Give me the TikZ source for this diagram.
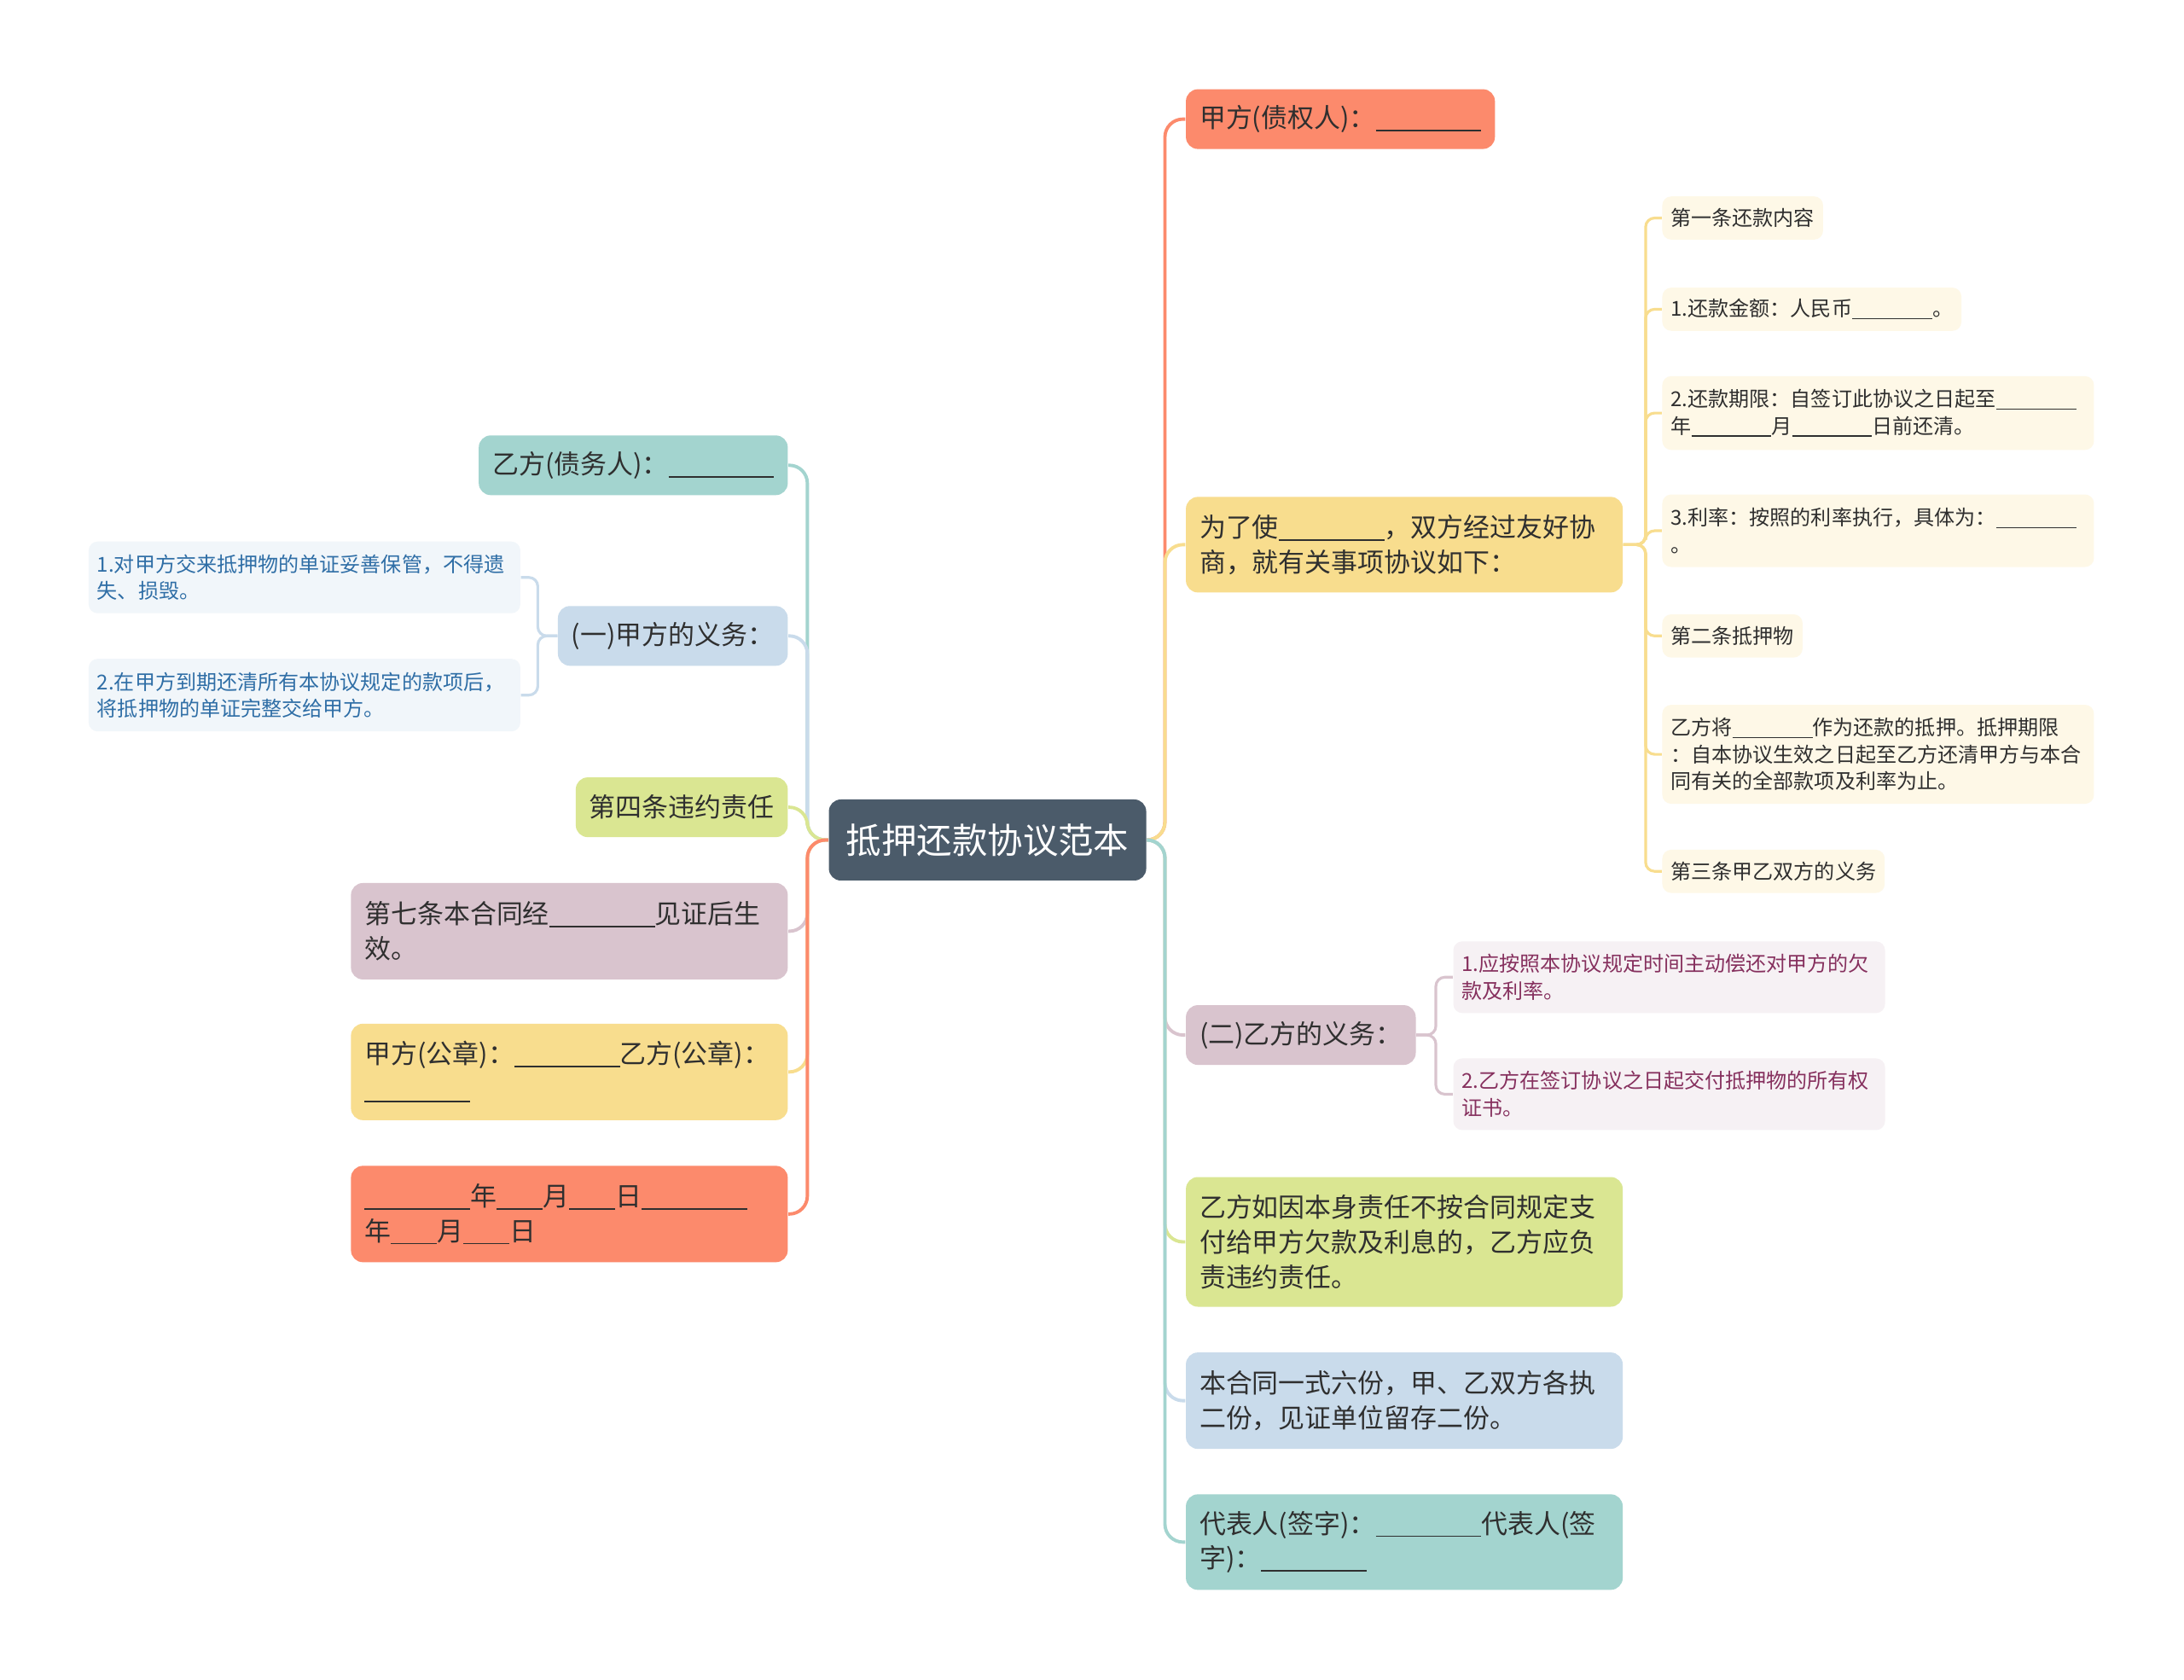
\documentclass[tikz,border=0pt]{standalone}
\usepackage{fontspec}
\setmainfont{Noto Sans CJK SC}
\usepackage{xcolor}
\usepackage{tikz}
\definecolor{MMSlate}{HTML}{4B5B6A}
\definecolor{MMSalmon}{HTML}{FC8A6C}
\definecolor{MMYellow}{HTML}{F8DD8E}
\definecolor{MMTeal}{HTML}{A3D4CF}
\definecolor{MMBlue}{HTML}{C9DBEB}
\definecolor{MMLime}{HTML}{DAE692}
\definecolor{MMMauve}{HTML}{D9C4CE}
\definecolor{MMText}{HTML}{2F2F2F}
\definecolor{MMPaleYellow}{HTML}{FEF8E7}
\definecolor{MMPaleBlue}{HTML}{F1F6FA}
\definecolor{MMPaleMauve}{HTML}{F6F1F4}
\definecolor{MMBlueText}{HTML}{2F6EA6}
\definecolor{MMMauveText}{HTML}{86305E}
\newcommand\fillin[1]{\rule[-0.14em]{#1em}{0.06em}}
\tikzset{
  topic/.style={rounded corners=4pt,inner xsep=0.16cm,inner ysep=0pt,minimum height=0.70cm,
    text=MMText,font=\fontsize{8.8}{11.6}\selectfont,align=left},
  wide/.style={text width=4.8cm},
  sub/.style={rounded corners=3pt,inner xsep=0.10cm,inner ysep=0pt,minimum height=0.506cm,
    text=MMText,font=\fontsize{6.85}{9}\selectfont,align=left},
  subwide/.style={text width=4.86cm},
  link/.style={line width=1.1pt,rounded corners=6pt},
  sublink/.style={line width=0.9pt,rounded corners=3pt}
}

\begin{document}
\begin{tikzpicture}[x=0.016327cm,y=-0.016327cm]
\path[use as bounding box] (0,0) rectangle (1568,1206);
\fill[white] (0,0) rectangle (1568,1206);
\node[fill=MMSlate,rounded corners=4pt,text=white,font=\fontsize{11.8}{14}\selectfont,
  minimum width=3.72cm,minimum height=0.95cm,inner sep=0pt] (root) at (709,603) {抵押还款协议范本};
\node[topic,fill=MMSalmon,anchor=west] (jiafang) at (851,85.5) {甲方(债权人)：\fillin{4}};
\node[topic,wide,fill=MMYellow,anchor=west,minimum height=1.12cm] (weile) at (851,391) {为了使\fillin{4}，双方经过友好协\\商，就有关事项协议如下：};
\node[topic,fill=MMMauve,anchor=west] (yiyiwu) at (851,743) {(二)乙方的义务：};
\node[topic,wide,fill=MMLime,anchor=west,minimum height=1.52cm] (weiyue) at (851,891.5) {乙方如因本身责任不按合同规定支\\付给甲方欠款及利息的，乙方应负\\责违约责任。};
\node[topic,wide,fill=MMBlue,anchor=west,minimum height=1.13cm] (fenshu) at (851,1005.5) {本合同一式六份，甲、乙双方各执\\二份，见证单位留存二份。};
\node[topic,wide,fill=MMTeal,anchor=west,minimum height=1.12cm] (daibiao) at (851,1107) {代表人(签字)：\fillin{4}代表人(签\\字)：\fillin{4}};
\node[topic,fill=MMTeal,anchor=east] (yifang) at (566,334) {乙方(债务人)：\fillin{4}};
\node[topic,fill=MMBlue,anchor=east] (jiayiwu) at (566,456.5) {(一)甲方的义务：};
\node[topic,fill=MMLime,anchor=east] (disi) at (566,579.5) {第四条违约责任};
\node[topic,wide,fill=MMMauve,anchor=east,minimum height=1.13cm] (diqi) at (566,668.5) {第七条本合同经\fillin{4}见证后生\\效。};
\node[topic,wide,fill=MMYellow,anchor=east,minimum height=1.13cm] (gongzhang) at (566,769.5) {甲方(公章)：\fillin{4}乙方(公章)：\\\fillin{4}};
\node[topic,wide,fill=MMSalmon,anchor=east,minimum height=1.13cm] (riqi) at (566,871.5) {\fillin{4}年\fillin{1.75}月\fillin{1.75}日\fillin{4}\\年\fillin{1.75}月\fillin{1.75}日};
\node[sub,fill=MMPaleYellow,anchor=west] (tiaoyi) at (1193,156.5) {第一条还款内容};
\node[sub,fill=MMPaleYellow,anchor=west] (jine) at (1193,222) {1.还款金额：人民币\fillin{3.9}。};
\node[sub,subwide,fill=MMPaleYellow,anchor=west,minimum height=0.865cm] (qixian) at (1193,296.5) {2.还款期限：自签订此协议之日起至\fillin{3.9}\\年\fillin{3.9}月\fillin{3.9}日前还清。};
\node[sub,subwide,fill=MMPaleYellow,anchor=west,minimum height=0.85cm] (lilv) at (1193,381) {3.利率：按照的利率执行，具体为：\fillin{3.9}\\。};
\node[sub,fill=MMPaleYellow,anchor=west] (tiaoer) at (1193,456.5) {第二条抵押物};
\node[sub,subwide,fill=MMPaleYellow,anchor=west,minimum height=1.16cm] (diya) at (1193,541.5) {乙方将\fillin{3.9}作为还款的抵押。抵押期限\\：自本协议生效之日起至乙方还清甲方与本合\\同有关的全部款项及利率为止。};
\node[sub,fill=MMPaleYellow,anchor=west] (tiaosan) at (1193,625.5) {第三条甲乙双方的义务};
\node[sub,subwide,fill=MMPaleMauve,text=MMMauveText,anchor=west,minimum height=0.84cm] (changhuan) at (1043,701.5) {1.应按照本协议规定时间主动偿还对甲方的欠\\款及利率。};
\node[sub,subwide,fill=MMPaleMauve,text=MMMauveText,anchor=west,minimum height=0.84cm] (jiaofu) at (1043,785.5) {2.乙方在签订协议之日起交付抵押物的所有权\\证书。};
\node[sub,subwide,fill=MMPaleBlue,text=MMBlueText,anchor=east,minimum height=0.84cm] (baoguan) at (374,414.5) {1.对甲方交来抵押物的单证妥善保管，不得遗\\失、损毁。};
\node[sub,subwide,fill=MMPaleBlue,text=MMBlueText,anchor=east,minimum height=0.85cm] (jiaohuan) at (374,499) {2.在甲方到期还清所有本协议规定的款项后，\\将抵押物的单证完整交给甲方。};
\draw[link,MMSalmon] (root.east) -- ++(13,0) |- (jiafang.west);
\draw[link,MMYellow] (root.east) -- ++(13,0) |- (weile.west);
\draw[link,MMMauve] (root.east) -- ++(13,0) |- (yiyiwu.west);
\draw[link,MMLime] (root.east) -- ++(13,0) |- (weiyue.west);
\draw[link,MMBlue] (root.east) -- ++(13,0) |- (fenshu.west);
\draw[link,MMTeal] (root.east) -- ++(13,0) |- (daibiao.west);
\draw[link,MMTeal] (root.west) -- ++(-15,0) |- (yifang.east);
\draw[link,MMBlue] (root.west) -- ++(-15,0) |- (jiayiwu.east);
\draw[link,MMLime] (root.west) -- ++(-15,0) |- (disi.east);
\draw[link,MMMauve] (root.west) -- ++(-15,0) |- (diqi.east);
\draw[link,MMYellow] (root.west) -- ++(-15,0) |- (gongzhang.east);
\draw[link,MMSalmon] (root.west) -- ++(-15,0) |- (riqi.east);
\draw[sublink,MMYellow] (weile.east) -- ++(16,0) |- (tiaoyi.west);
\draw[sublink,MMYellow] (weile.east) -- ++(16,0) |- (jine.west);
\draw[sublink,MMYellow] (weile.east) -- ++(16,0) |- (qixian.west);
\draw[sublink,MMYellow] (weile.east) -- ++(16,0) |- (lilv.west);
\draw[sublink,MMYellow] (weile.east) -- ++(16,0) |- (tiaoer.west);
\draw[sublink,MMYellow] (weile.east) -- ++(16,0) |- (diya.west);
\draw[sublink,MMYellow] (weile.east) -- ++(16,0) |- (tiaosan.west);
\draw[sublink,MMMauve] (yiyiwu.east) -- ++(14,0) |- (changhuan.west);
\draw[sublink,MMMauve] (yiyiwu.east) -- ++(14,0) |- (jiaofu.west);
\draw[sublink,MMBlue] (jiayiwu.west) -- ++(-14,0) |- (baoguan.east);
\draw[sublink,MMBlue] (jiayiwu.west) -- ++(-14,0) |- (jiaohuan.east);
\end{tikzpicture}
\end{document}
